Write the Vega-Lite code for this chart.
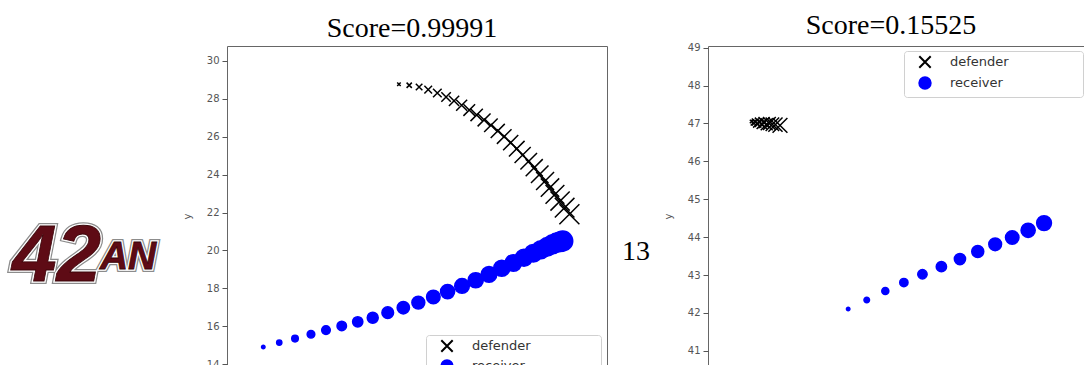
{
"$schema": "https://vega.github.io/schema/vega-lite/v6.json",
"background": "white",
"padding": {"left": 0, "top": 11, "right": 0, "bottom": 0},
"bounds": "flush",
"spacing": 0,
"config": {
  "view": {"stroke": "#666", "strokeWidth": 1},
  "axisY": {"labelFont": "DejaVu Sans", "labelFontSize": 10, "labelColor": "#555", "tickColor": "#555", "tickSize": 5, "labelPadding": 3, "grid": false, "domain": false, "titleFont": "DejaVu Sans", "titleFontSize": 10, "titleFontWeight": "normal", "titleColor": "#555", "titlePadding": 14},
  "legend": {"labelFont": "DejaVu Sans", "labelFontSize": 13, "labelColor": "#333", "fillColor": "white", "strokeColor": "#d0d0d0", "cornerRadius": 3, "padding": 4, "symbolSize": 130, "symbolStrokeWidth": 2, "symbolOffset": 10, "labelOffset": 18, "labelLimit": 300}
},
"datasets": {
  "p1": [
    {"who": "defender", "t": 0, "x": 9.05, "y": 28.77},
    {"who": "defender", "t": 1, "x": 9.59, "y": 28.72},
    {"who": "defender", "t": 2, "x": 10.11, "y": 28.63},
    {"who": "defender", "t": 3, "x": 10.59, "y": 28.49},
    {"who": "defender", "t": 4, "x": 11.07, "y": 28.31},
    {"who": "defender", "t": 5, "x": 11.53, "y": 28.10},
    {"who": "defender", "t": 6, "x": 11.95, "y": 27.89},
    {"who": "defender", "t": 7, "x": 12.35, "y": 27.66},
    {"who": "defender", "t": 8, "x": 12.75, "y": 27.41},
    {"who": "defender", "t": 9, "x": 13.14, "y": 27.15},
    {"who": "defender", "t": 10, "x": 13.53, "y": 26.89},
    {"who": "defender", "t": 11, "x": 13.89, "y": 26.61},
    {"who": "defender", "t": 12, "x": 14.25, "y": 26.31},
    {"who": "defender", "t": 13, "x": 14.59, "y": 26.01},
    {"who": "defender", "t": 14, "x": 14.93, "y": 25.69},
    {"who": "defender", "t": 15, "x": 15.25, "y": 25.37},
    {"who": "defender", "t": 16, "x": 15.56, "y": 25.04},
    {"who": "defender", "t": 17, "x": 15.88, "y": 24.71},
    {"who": "defender", "t": 18, "x": 16.17, "y": 24.37},
    {"who": "defender", "t": 19, "x": 16.46, "y": 24.02},
    {"who": "defender", "t": 20, "x": 16.74, "y": 23.67},
    {"who": "defender", "t": 21, "x": 17.00, "y": 23.32},
    {"who": "defender", "t": 22, "x": 17.26, "y": 22.96},
    {"who": "defender", "t": 23, "x": 17.53, "y": 22.61},
    {"who": "defender", "t": 24, "x": 17.77, "y": 22.26},
    {"who": "defender", "t": 25, "x": 18.02, "y": 21.91},
    {"who": "receiver", "t": 0, "x": 1.91, "y": 14.91},
    {"who": "receiver", "t": 1, "x": 2.75, "y": 15.14},
    {"who": "receiver", "t": 2, "x": 3.58, "y": 15.35},
    {"who": "receiver", "t": 3, "x": 4.42, "y": 15.58},
    {"who": "receiver", "t": 4, "x": 5.21, "y": 15.80},
    {"who": "receiver", "t": 5, "x": 6.04, "y": 16.02},
    {"who": "receiver", "t": 6, "x": 6.88, "y": 16.24},
    {"who": "receiver", "t": 7, "x": 7.67, "y": 16.45},
    {"who": "receiver", "t": 8, "x": 8.46, "y": 16.72},
    {"who": "receiver", "t": 9, "x": 9.28, "y": 16.98},
    {"who": "receiver", "t": 10, "x": 10.07, "y": 17.25},
    {"who": "receiver", "t": 11, "x": 10.86, "y": 17.55},
    {"who": "receiver", "t": 12, "x": 11.61, "y": 17.83},
    {"who": "receiver", "t": 13, "x": 12.37, "y": 18.13},
    {"who": "receiver", "t": 14, "x": 13.09, "y": 18.43},
    {"who": "receiver", "t": 15, "x": 13.79, "y": 18.74},
    {"who": "receiver", "t": 16, "x": 14.46, "y": 19.06},
    {"who": "receiver", "t": 17, "x": 15.07, "y": 19.34},
    {"who": "receiver", "t": 18, "x": 15.63, "y": 19.62},
    {"who": "receiver", "t": 19, "x": 16.12, "y": 19.85},
    {"who": "receiver", "t": 20, "x": 16.53, "y": 20.04},
    {"who": "receiver", "t": 21, "x": 16.86, "y": 20.20},
    {"who": "receiver", "t": 22, "x": 17.14, "y": 20.33},
    {"who": "receiver", "t": 23, "x": 17.35, "y": 20.41},
    {"who": "receiver", "t": 24, "x": 17.53, "y": 20.46},
    {"who": "receiver", "t": 25, "x": 17.67, "y": 20.50}
  ],
  "p2": [
    {"who": "defender", "t": 0, "x": 1.15, "y": 47.05},
    {"who": "defender", "t": 1, "x": 1.20, "y": 47.02},
    {"who": "defender", "t": 2, "x": 1.25, "y": 47.04},
    {"who": "defender", "t": 3, "x": 1.30, "y": 47.00},
    {"who": "defender", "t": 4, "x": 1.36, "y": 47.03},
    {"who": "defender", "t": 5, "x": 1.42, "y": 46.99},
    {"who": "defender", "t": 6, "x": 1.48, "y": 47.02},
    {"who": "defender", "t": 7, "x": 1.55, "y": 46.98},
    {"who": "defender", "t": 8, "x": 1.62, "y": 47.00},
    {"who": "defender", "t": 9, "x": 1.70, "y": 46.98},
    {"who": "defender", "t": 10, "x": 1.78, "y": 46.97},
    {"who": "defender", "t": 11, "x": 1.90, "y": 46.95},
    {"who": "receiver", "t": 0, "x": 3.70, "y": 42.10},
    {"who": "receiver", "t": 1, "x": 4.19, "y": 42.34},
    {"who": "receiver", "t": 2, "x": 4.68, "y": 42.58},
    {"who": "receiver", "t": 3, "x": 5.17, "y": 42.80},
    {"who": "receiver", "t": 4, "x": 5.66, "y": 43.02},
    {"who": "receiver", "t": 5, "x": 6.16, "y": 43.22},
    {"who": "receiver", "t": 6, "x": 6.65, "y": 43.42},
    {"who": "receiver", "t": 7, "x": 7.12, "y": 43.62},
    {"who": "receiver", "t": 8, "x": 7.58, "y": 43.81},
    {"who": "receiver", "t": 9, "x": 8.03, "y": 43.99},
    {"who": "receiver", "t": 10, "x": 8.45, "y": 44.18},
    {"who": "receiver", "t": 11, "x": 8.87, "y": 44.37}
  ]
},
"hconcat": [
  {
    "width": 227, "height": 340,
    "view": {"stroke": null},
    "data": {"values": [{"txt": "42", "px": 0.053, "py": 3.09}, {"txt": "AN", "px": 0.44, "py": 3.44}]},
    "encoding": {
      "x": {"field": "px", "type": "quantitative", "scale": {"domain": [0, 1]}, "axis": null},
      "y": {"field": "py", "type": "quantitative", "scale": {"domain": [0, 10]}, "axis": null},
      "text": {"field": "txt"},
      "size": {"field": "txt", "type": "nominal", "scale": {"domain": ["42", "AN"], "range": [80, 39]}, "legend": null}
    },
    "layer": [
      {"mark": {"type": "text", "font": "Liberation Sans", "fontWeight": "bold", "fontStyle": "italic", "align": "left", "baseline": "alphabetic", "fill": "white", "stroke": "#8c8c8c", "strokeWidth": 6}},
      {"mark": {"type": "text", "font": "Liberation Sans", "fontWeight": "bold", "fontStyle": "italic", "align": "left", "baseline": "alphabetic", "fill": "white", "stroke": "white", "strokeWidth": 3.5}},
      {"mark": {"type": "text", "font": "Liberation Sans", "fontWeight": "bold", "fontStyle": "italic", "align": "left", "baseline": "alphabetic", "fill": "#5e0b15", "stroke": "#3a0509", "strokeWidth": 0.8}}
    ]
  },
  {
    "width": 380, "height": 340,
    "title": {"text": "Score=0.99991", "font": "Liberation Serif", "fontSize": 28, "fontWeight": "normal", "color": "#000", "offset": -19, "dx": -5, "baseline": "alphabetic"},
    "data": {"name": "p1"},
    "mark": {"type": "point", "filled": true, "strokeWidth": 1.5, "opacity": 1},
    "encoding": {
      "x": {"field": "x", "type": "quantitative", "scale": {"domain": [0, 20], "nice": false, "zero": false}, "axis": null},
      "y": {"field": "y", "type": "quantitative", "scale": {"domain": [12.85, 30.79], "nice": false, "zero": false}, "axis": {"title": "y", "values": [14, 16, 18, 20, 22, 24, 26, 28, 30]}},
      "shape": {"field": "who", "type": "nominal", "scale": {"domain": ["defender", "receiver"], "range": ["M-1,-1L1,1M1,-1L-1,1", "circle"]}, "legend": {"title": null, "orient": "bottom-right", "offset": 6, "rowPadding": 0, "labelExpr": "datum.label + '                \u200b'"}},
      "fill": {"field": "who", "type": "nominal", "scale": {"domain": ["defender", "receiver"], "range": ["black", "blue"]}, "legend": {"title": null, "orient": "bottom-right", "offset": 6, "rowPadding": 0, "labelExpr": "datum.label + '                \u200b'"}},
      "stroke": {"field": "who", "type": "nominal", "scale": {"domain": ["defender", "receiver"], "range": ["black", "blue"]}, "legend": {"title": null, "orient": "bottom-right", "offset": 6, "rowPadding": 0, "labelExpr": "datum.label + '                \u200b'"}},
      "size": {"field": "t", "type": "quantitative", "scale": {"domain": [0, 25], "range": [12, 400]}, "legend": null}
    }
  },
  {
    "width": 101, "height": 340,
    "view": {"stroke": null},
    "data": {"values": [{"txt": "13", "px": 0.287, "py": 3.71}]},
    "mark": {"type": "text", "font": "Liberation Serif", "fontSize": 28, "align": "center", "baseline": "alphabetic", "color": "black"},
    "encoding": {
      "x": {"field": "px", "type": "quantitative", "scale": {"domain": [0, 1]}, "axis": null},
      "y": {"field": "py", "type": "quantitative", "scale": {"domain": [0, 10]}, "axis": null},
      "text": {"field": "txt"}
    }
  },
  {
    "width": 380, "height": 340,
    "title": {"text": "Score=0.15525", "font": "Liberation Serif", "fontSize": 28, "fontWeight": "normal", "color": "#000", "offset": -19, "dx": -7, "baseline": "alphabetic"},
    "data": {"name": "p2"},
    "mark": {"type": "point", "filled": true, "strokeWidth": 1.5, "opacity": 1},
    "encoding": {
      "x": {"field": "x", "type": "quantitative", "scale": {"domain": [0, 10.03], "nice": false, "zero": false}, "axis": null},
      "y": {"field": "y", "type": "quantitative", "scale": {"domain": [40.07, 49.045], "nice": false, "zero": false}, "axis": {"title": "y", "values": [41, 42, 43, 44, 45, 46, 47, 48, 49]}},
      "shape": {"field": "who", "type": "nominal", "scale": {"domain": ["defender", "receiver"], "range": ["M-1,-1L1,1M1,-1L-1,1", "circle"]}, "legend": {"title": null, "orient": "top-right", "offset": 5, "rowPadding": 1, "labelExpr": "datum.label + '                 \u200b'"}},
      "fill": {"field": "who", "type": "nominal", "scale": {"domain": ["defender", "receiver"], "range": ["black", "blue"]}, "legend": {"title": null, "orient": "top-right", "offset": 5, "rowPadding": 1, "labelExpr": "datum.label + '                 \u200b'"}},
      "stroke": {"field": "who", "type": "nominal", "scale": {"domain": ["defender", "receiver"], "range": ["black", "blue"]}, "legend": {"title": null, "orient": "top-right", "offset": 5, "rowPadding": 1, "labelExpr": "datum.label + '                 \u200b'"}},
      "size": {"field": "t", "type": "quantitative", "scale": {"domain": [0, 11], "range": [12, 220]}, "legend": null}
    }
  }
]
}
